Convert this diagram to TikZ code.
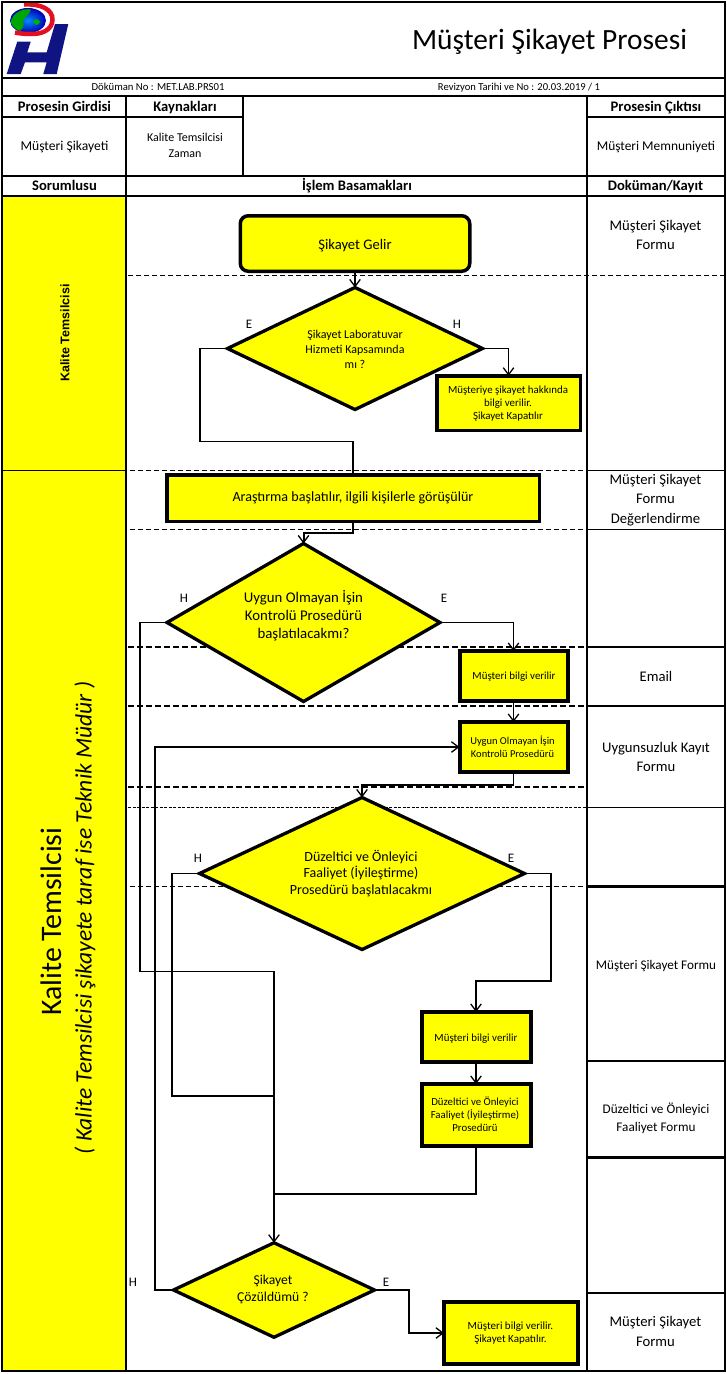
\documentclass[tikz,border=0pt]{standalone}
\usepackage{fontspec}
\setmainfont{Carlito}
\newfontfamily\arialfont{Liberation Sans}
\usetikzlibrary{shapes.geometric,arrows.meta}
\definecolor{yel}{RGB}{255,255,0}
\definecolor{navy}{RGB}{16,20,130}
\definecolor{logored}{RGB}{226,16,32}
\tikzset{
  x=1pt,y=-1pt,
  fsz/.style 2 args={font=\fontsize{#1}{#2}\selectfont},
  grid/.style={line width=2pt,black},
  gridthin/.style={line width=1pt,black},
  gridthick/.style={line width=3pt,black},
  dashthin/.style={line width=1pt,dash pattern=on 5pt off 3pt},
  dashfine/.style={line width=0.8pt,dash pattern=on 3pt off 1.5pt},
  dashthick/.style={line width=1.8pt,dash pattern=on 6pt off 3pt},
  txt/.style={align=center,inner sep=0pt,outer sep=0pt,text=black},
  btxt/.style={txt,anchor=base,font=\fontsize{14.6}{17}\selectfont\bfseries},
  stepbox/.style={draw=black,fill=yel,line width=3.5pt,inner sep=0pt,outer sep=0pt,rectangle},
  heavybox/.style={stepbox,line width=4pt},
  dec/.style={draw=black,fill=yel,line width=3.3pt,inner sep=0pt,outer sep=0pt,diamond},
  conn/.style={line width=1.5pt,black},
  arr/.style={conn,-{Straight Barb[length=7pt,width=10.5pt,line width=1.3pt]}},
  lab/.style={txt,anchor=base,fsz={13}{15}},
}
\begin{document}
\begin{tikzpicture}
\useasboundingbox (0,0) rectangle (727,1374);
\fill[white] (0,0) rectangle (727,1374);
\fill[yel] (2,195) rectangle (126,1371);
% logo
\fill[navy] (6.7,74) -- (17.3,41.7) -- (30.7,41.7) -- (27.3,52.3) -- (46.7,52.3) -- (55,24) -- (68.3,24) -- (56.7,74) -- (43.3,74) -- (46.7,62.3) -- (25,62.3) -- (20.7,74) -- cycle;
\shade[inner color=cyan!55!blue,outer color=blue!70!black] (28,20.5) ellipse (18 and 12.5);
\fill[green!65!black] (10.5,22) .. controls (13,12) and (24,8) .. (31,9.5) .. controls (29,15) and (25,17) .. (23,21) .. controls (25,26) and (22,29) .. (20,31) .. controls (15,29) and (12,26) .. (10.5,22) -- cycle;
\fill[green!70!black] (33,21) .. controls (36,18) and (39,19) .. (40,22) .. controls (38,26) and (35,26) .. (33,21) -- cycle;
\draw[logored,line width=4.5pt] (24,4.5) .. controls (40,3.5) and (53,9) .. (52.5,20) .. controls (52,30) and (42,34.5) .. (30,34) .. controls (25,34) and (20,33.5) .. (15,32.5);
% table frame
\draw[grid] (1.5,2) rectangle (724.5,1371);
\draw[grid] (1.5,78) -- (724.5,78);
\draw[grid] (1.5,96) -- (724.5,96);
\draw[grid] (1.5,176) -- (724.5,176);
\draw[grid] (1.5,195.5) -- (724.5,195.5);
\draw[line width=1.5pt] (1.5,117) -- (243,117);
\draw[line width=1.5pt] (587,117) -- (724.5,117);
\draw[grid] (126,96) -- (126,1371);
\draw[grid] (243,96) -- (243,176);
\draw[grid] (587,96) -- (587,1371);
% row separators
\draw[gridthin] (1.5,470.5) -- (126,470.5);
\draw[dashthin] (128,275) -- (724.5,275);
\draw[dashthin] (130,470.5) -- (587,470.5);
\draw[gridthin] (587,470.5) -- (724.5,470.5);
\draw[dashthin] (130,529) -- (587,529);
\draw[gridthin] (587,529) -- (724.5,529);
\draw[dashthick] (128,647) -- (587,647);
\draw[grid] (587,647) -- (724.5,647);
\draw[dashthick] (128,706) -- (587,706);
\draw[grid] (587,706) -- (724.5,706);
\draw[dashthick] (128,787) -- (587,787);
\draw[dashfine] (128,807) -- (587,807);
\draw[gridthin] (587,807) -- (724.5,807);
\draw[dashthin] (130,886) -- (587,886);
\draw[gridthick] (587,886) -- (724.5,886);
\draw[grid] (587,1061) -- (724.5,1061);
\draw[gridthick] (587,1157) -- (724.5,1157);
\draw[grid] (587,1293) -- (724.5,1293);
% header texts
\node[txt,anchor=base,fsz={29.4}{34}] (title) at (549.5,49.5) {Müşteri Şikayet Prosesi};
\node[txt,anchor=base,fsz={10.7}{12}] (docno) at (158,90) {Döküman No : MET.LAB.PRS01};
\node[txt,anchor=base,fsz={10.6}{12}] (revno) at (519,90) {Revizyon Tarihi ve No : 20.03.2019 / 1};
\node[btxt] (h1) at (64.5,111) {Prosesin Girdisi};
\node[btxt] (h2) at (185,111) {Kaynakları};
\node[btxt] (h3) at (656,111) {Prosesin Çıktısı};
\node[btxt] (h4) at (64.5,190) {Sorumlusu};
\node[btxt] (h5) at (357,190) {İşlem Basamakları};
\node[btxt] (h6) at (655.5,190) {Doküman/Kayıt};
\node[txt,anchor=base,fsz={13.6}{15}] (c1) at (64.5,150.7) {Müşteri Şikayeti};
\node[txt,fsz={12}{16}] (c2) at (185,145) {Kalite Temsilcisi\\Zaman};
\node[txt,anchor=base,fsz={13.4}{15}] (c3) at (656,150.7) {Müşteri Memnuniyeti};
% swimlane labels
\node[txt,rotate=90,font=\arialfont\fontsize{12.5}{14}\selectfont\bfseries] (l1) at (65,333) {Kalite Temsilcisi};
\node[txt,rotate=90,fsz={29.8}{34}] (l2) at (51,921.5) {Kalite Temsilcisi};
\node[txt,rotate=90,font=\fontsize{23.5}{27}\selectfont\itshape] (l3) at (85,918) {( Kalite Temsilcisi şikayete taraf ise Teknik Müdür )};
% right column
\node[txt,fsz={14.7}{19.5}] (r1) at (655.5,235) {Müşteri Şikayet\\Formu};
\node[txt,fsz={14.7}{19.5}] (r2) at (655.5,500) {Müşteri Şikayet\\Formu\\Değerlendirme};
\node[txt,anchor=base,fsz={14.7}{16}] (r3) at (656,681) {Email};
\node[txt,fsz={14.7}{19.5}] (r4) at (656,757) {Uygunsuzluk Kayıt\\Formu};
\node[txt,anchor=base,fsz={13.2}{15}] (r5) at (656,969) {Müşteri Şikayet Formu};
\node[txt,fsz={13.2}{17.5}] (r6) at (656,1118.5) {Düzeltici ve Önleyici\\Faaliyet Formu};
\node[txt,fsz={14.7}{19.5}] (r7) at (655.5,1331.5) {Müşteri Şikayet\\Formu};
% flow nodes
\node[stepbox,rounded corners=8pt,minimum width=229.5pt,minimum height=55.5pt] (start) at (355,243.5) {};
\node[txt,anchor=base,fsz={14.6}{17}] (startt) at (355,249) {Şikayet Gelir};
\node[dec,minimum width=255pt,minimum height=122pt,shape aspect=2.1] (d1) at (355,348.5) {};
\node[txt,fsz={12}{15}] (d1t) at (355,349) {Şikayet Laboratuvar\\Hizmeti Kapsamında\\mı ?};
\node[stepbox,minimum width=143.5pt,minimum height=54.5pt] (b1) at (508.5,403) {};
\node[txt,fsz={10.9}{13}] (b1t) at (508,403.5) {Müşteriye şikayet hakkında\\bilgi verilir.\\Şikayet Kapatılır};
\node[stepbox,minimum width=372.5pt,minimum height=46.5pt] (b2) at (353,498) {};
\node[txt,anchor=base,fsz={14.1}{16}] (b2t) at (353,501.7) {Araştırma başlatılır, ilgili kişilerle görüşülür};
\node[dec,minimum width=273pt,minimum height=158pt,shape aspect=1.73] (d2) at (303.5,622.5) {};
\node[txt,fsz={14.8}{18}] (d2t) at (303.5,616) {Uygun Olmayan İşin\\Kontrolü Prosedürü\\başlatılacakmı?};
\node[heavybox,minimum width=108pt,minimum height=50pt] (b3) at (513.5,676) {};
\node[txt,anchor=base,fsz={10.9}{12}] (b3t) at (514,679) {Müşteri bilgi verilir};
\node[heavybox,minimum width=108pt,minimum height=50pt] (b4) at (513.5,747) {};
\node[txt,fsz={10.5}{12.7}] (b4t) at (512.5,747) {Uygun Olmayan İşin\\Kontrolü Prosedürü};
\node[dec,minimum width=325pt,minimum height=152pt,shape aspect=2.13] (d3) at (362,873.5) {};
\node[txt,fsz={14}{16.5}] (d3t) at (361,873.5) {Düzeltici ve Önleyici\\Faaliyet (İyileştirme)\\Prosedürü başlatılacakmı};
\node[heavybox,minimum width=109pt,minimum height=50pt] (b5) at (476,1037) {};
\node[txt,anchor=base,fsz={10.9}{12}] (b5t) at (476,1041) {Müşteri bilgi verilir};
\node[heavybox,minimum width=109pt,minimum height=62pt] (b6) at (476,1115) {};
\node[txt,fsz={10.8}{13}] (b6t) at (475,1114.5) {Düzeltici ve Önleyici\\Faaliyet (İyileştirme)\\Prosedürü};
\node[dec,minimum width=201pt,minimum height=94.5pt,shape aspect=2.13] (d4) at (274,1290) {};
\node[txt,fsz={13.6}{16.5}] (d4t) at (273,1289.5) {Şikayet\\Çözüldümü ?};
\node[heavybox,minimum width=134pt,minimum height=62pt] (b7) at (511,1333) {};
\node[txt,fsz={11}{13}] (b7t) at (510.5,1333) {Müşteri bilgi verilir.\\Şikayet Kapatılır.};
% branch labels
\node[lab] (e1) at (249,328.5) {E};
\node[lab] (h1l) at (457,328.5) {H};
\node[lab] (h2l) at (184,602.5) {H};
\node[lab] (e2) at (444,602.5) {E};
\node[lab] (h3l) at (198,862.5) {H};
\node[lab] (e3) at (511,862.5) {E};
\node[lab] (h4l) at (133,1286.5) {H};
\node[lab] (e4) at (386,1286.5) {E};
% connectors
\draw[arr] (start.south) -- (d1.north);
\draw[conn] (d1.west) -- (200,348.5) -- (200,441.5) -- (353,441.5) -- (b2.north);
\draw[arr] (d1.east) -- (508.5,348.5) -- (b1.north);
\draw[arr,line width=2pt] (b2.south) -- (353,533) -- (303.5,533) -- (d2.north);
\draw[arr] (d2.west) -- (140,622.5) -- (140,971.5) -- (274,971.5) -- (d4.north);
\draw[arr] (d2.east) -- (513.5,622.5) -- (b3.north);
\draw[arr] (b3.south) -- (b4.north);
\draw[arr] (d4.west) -- (155,1290) -- (155,747) -- (b4.west);
\draw[arr] (b4.south) -- (513.5,785) -- (362,785) -- (d3.north);
\draw[conn] (d3.west) -- (172,873.5) -- (172,1096) -- (274,1096);
\draw[arr] (d3.east) -- (551,873.5) -- (551,981) -- (476,981) -- (b5.north);
\draw[arr] (b5.south) -- (b6.north);
\draw[conn] (b6.south) -- (476,1194) -- (274,1194);
\draw[arr] (d4.east) -- (409,1290) -- (409,1333) -- (b7.west);
\end{tikzpicture}
\end{document}
